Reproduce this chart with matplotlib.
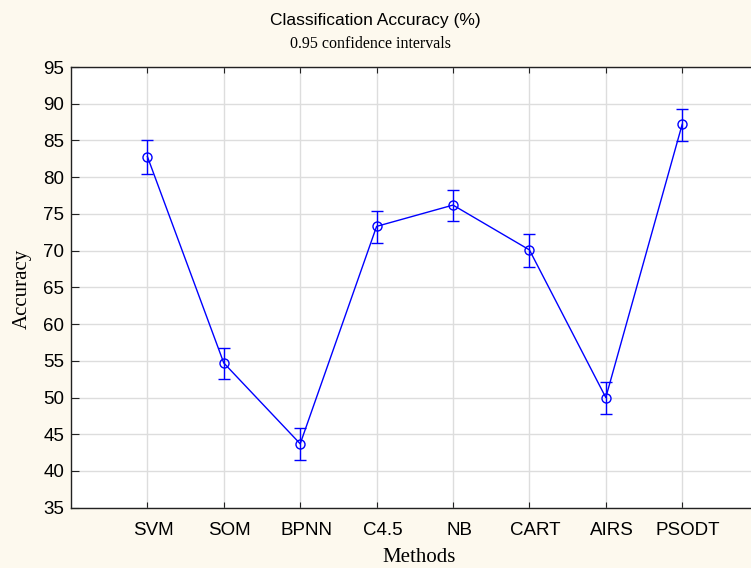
import matplotlib
matplotlib.use("Agg")
import matplotlib.pyplot as plt
import matplotlib.transforms as mtransforms
import numpy as np

methods = ["SVM", "SOM", "BPNN", "C4.5", "NB", "CART", "AIRS", "PSODT"]
accuracy = [82.8, 54.7, 43.7, 73.3, 76.2, 70.1, 50.0, 87.2]
ci_low = [80.5, 52.5, 41.5, 71.1, 74.0, 67.8, 47.8, 84.9]
ci_high = [85.0, 56.8, 45.8, 75.4, 78.3, 72.2, 52.1, 89.3]
yticks = [35, 40, 45, 50, 55, 60, 65, 70, 75, 80, 85, 90, 95]

bg = "#FDF9EE"
fig = plt.figure(figsize=(7.51, 5.68), dpi=100, facecolor=bg)
ax = fig.add_axes([71/751, 1 - 507.7/568, 1 - 71/751, (507.7 - 67)/568])
ax.set_facecolor("white")

x = np.arange(1, len(methods) + 1)
acc = np.array(accuracy)
yerr = np.vstack([acc - np.array(ci_low), np.array(ci_high) - acc])
ax.errorbar(x, acc, yerr=yerr, color="#0000FF", lw=1.0, elinewidth=1.0,
            capsize=4, capthick=1.0, marker="o", markersize=6.5,
            markerfacecolor="none", markeredgecolor="#0000FF", mew=1.0, zorder=3)

ax.set_xlim(0, (751 - 71) / 76.4)
ax.set_ylim(35, 95)
ax.set_xticks(x)
ax.set_xticklabels(methods, fontfamily="Liberation Sans", fontsize=13.5)
ax.set_yticks(yticks)
ax.set_yticklabels([str(v) for v in yticks], fontfamily="Liberation Sans", fontsize=13.5)
ax.tick_params(axis="x", direction="in", length=4, pad=10, top=True, color="#222222")
ax.tick_params(axis="y", direction="in", length=6, pad=5, color="#222222")
offset = mtransforms.ScaledTranslation(6/100, 0, fig.dpi_scale_trans)
for lbl in ax.get_xticklabels():
    lbl.set_transform(lbl.get_transform() + offset)
ax.grid(True, color="#DDDDDD", lw=1.0, zorder=0)
ax.set_axisbelow(True)
for s in ["left", "bottom", "top"]:
    ax.spines[s].set_color("#222222")
    ax.spines[s].set_linewidth(1.0)
ax.spines["right"].set_visible(False)

fig.text(375/751, 1 - 20/568, "Classification Accuracy (%)", ha="center", va="center",
         fontfamily="Liberation Sans", fontsize=12.5)
fig.text(371/751, 1 - 44/568, "0.95 confidence intervals", ha="center", va="center",
         fontfamily="Liberation Serif", fontsize=11.5)
fig.text(22/751, 1 - 289/568, "Accuracy", ha="center", va="center", rotation=90,
         fontfamily="Liberation Serif", fontsize=15)
fig.text(419/751, 1 - 557/568, "Methods", ha="center", va="center",
         fontfamily="Liberation Serif", fontsize=15)

fig.savefig("out.png", dpi=100, facecolor=bg)
